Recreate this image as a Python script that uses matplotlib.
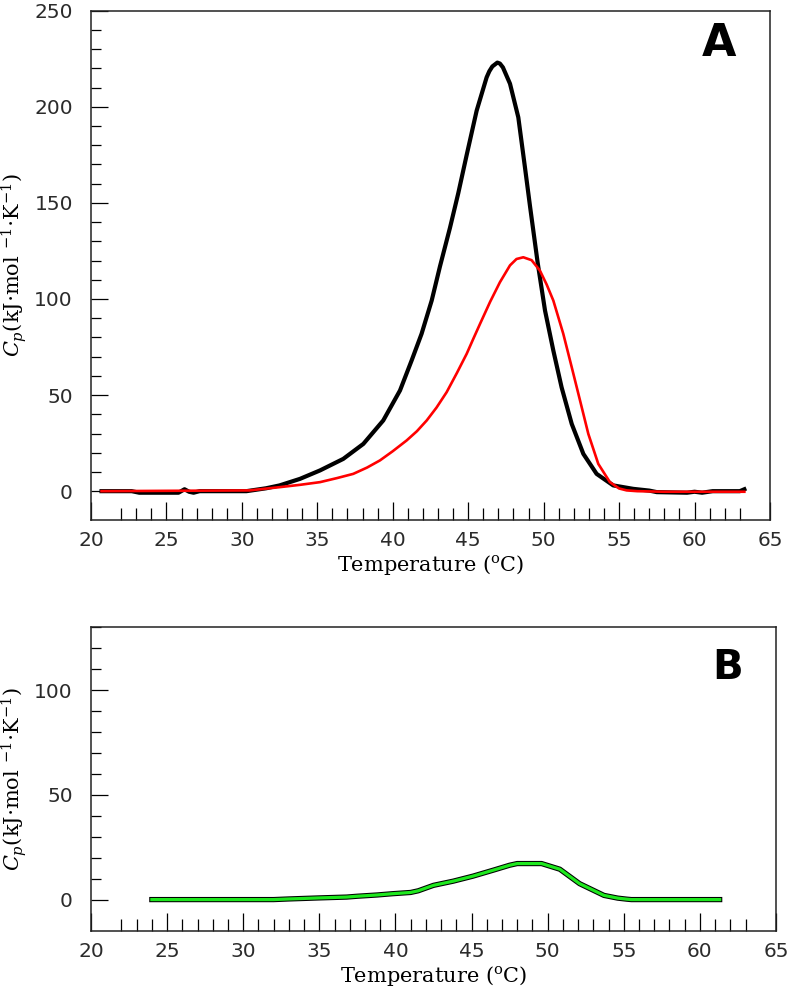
import matplotlib
matplotlib.use('Agg')
import matplotlib.pyplot as plt
from matplotlib.ticker import FixedLocator

# panel A, black trace (measured Cp)
temp_black = [20.7, 22.7, 23.2, 25.8, 26.2, 26.5, 26.8, 27.2, 30.3, 31.6, 32.5, 33.85,
              35.18, 36.72, 38.05, 39.37, 40.48, 41.25, 41.91, 42.58, 43.13, 43.79, 44.34,
              44.9, 45.56, 46.22, 46.4, 46.6, 46.93, 47.1, 47.3, 47.77, 48.32, 48.76, 49.1,
              49.6, 50.09, 50.64, 51.19, 51.86, 52.63, 53.51, 54.61, 55.94, 57.0, 57.5,
              59.5, 60.0, 60.5, 61.2, 63.0, 63.3]
cp_black = [0, 0, -0.8, -0.8, 1.0, -0.3, -0.8, 0, 0, 1.5, 3.0, 6.4,
            10.8, 16.8, 24.6, 36.8, 52.4, 68, 81.9, 99.2, 117, 137, 155,
            175, 198, 215.3, 218.5, 221, 223, 222.5, 220.5, 212, 194.5, 168.5, 148,
            119, 94, 73.2, 54, 35, 19.4, 9.0, 3.0, 1.2, 0.3, -0.5,
            -0.8, -0.3, -0.8, 0, 0, 1.0]

# panel A, red trace (fit)
temp_red = [20.7, 30.5, 32.52, 33.85, 35.18, 36.3, 37.38, 38.3, 39.15, 40.0, 40.92, 41.6,
            42.25, 42.9, 43.57, 44.25, 44.9, 45.35, 45.78, 46.45, 47.1, 47.77, 48.2, 48.65,
            49.2, 49.75, 50.2, 50.64, 51.3, 51.86, 52.41, 52.96, 53.62, 54.39, 55.0, 55.5,
            56.2, 58.0, 63.3]
cp_red = [0, 0.4, 2.1, 3.3, 4.7, 6.8, 9.0, 12.3, 16, 20.8, 26.4, 31.2,
          36.8, 43.5, 51.5, 61.5, 71.5, 79.5, 87, 98.5, 108.7, 117.5, 120.8, 121.7,
          120.2, 114.8, 107.5, 99.2, 81.9, 64.5, 47.2, 29.8, 14.2, 4.7, 1.4, 0.4,
          0, -0.3, -0.3]

# panel B, difference trace
temp_diff = [24.0, 32.0, 33.0, 34.2, 35.0, 36.8, 37.5, 38.8, 39.8, 41.0, 41.5, 42.5,
             43.8, 45.1, 46.5, 47.5, 48.0, 49.6, 50.8, 52.1, 53.7, 54.6, 55.2, 55.5, 61.3]
cp_diff = [0, 0, 0.3, 0.6, 0.8, 1.2, 1.6, 2.2, 2.8, 3.4, 4.2, 6.8,
           8.8, 11.2, 14.2, 16.4, 17.2, 17.2, 14.5, 7.6, 2.0, 0.7, 0.2, 0, 0]

xticks = [20, 25, 30, 35, 40, 45, 50, 55, 60, 65]
xminor = [t for t in range(22, 64) if t % 5 != 0]

plt.rcParams['mathtext.fontset'] = 'dejavuserif'
ylabel = r'$C_p$(kJ$\cdot$mol $^{-1}$$\cdot$K$^{-1}$)'
xlabel = r'Temperature ($^{\rm o}$C)'

fig = plt.figure(figsize=(7.87, 10), dpi=100)
axA = fig.add_axes([0.1156, 0.48, 0.8628, 0.5093])
axB = fig.add_axes([0.1156, 0.069, 0.8704, 0.3037])


def style(ax, ymax, ymajor):
    ax.set_xlim(20, 65)
    ax.set_ylim(-15, ymax)
    ax.xaxis.set_major_locator(FixedLocator(xticks))
    ax.xaxis.set_minor_locator(FixedLocator(xminor))
    ax.yaxis.set_major_locator(FixedLocator(ymajor))
    ax.yaxis.set_minor_locator(FixedLocator(list(range(0, ymax + 1, 10))))
    ax.tick_params(axis='both', which='both', direction='in', color='black',
                   labelcolor='#2b2b2b', labelsize=14.5, width=0.9)
    ax.tick_params(axis='x', which='major', length=13, pad=8)
    ax.tick_params(axis='x', which='minor', length=8.5)
    ax.tick_params(axis='y', which='major', length=12.5, pad=13)
    ax.tick_params(axis='y', which='minor', length=7.5)
    for s in ax.spines.values():
        s.set_linewidth(1.1)
        s.set_color('#222222')
    ax.set_xlabel(xlabel, family='DejaVu Serif', fontsize=15, labelpad=2)
    ax.set_ylabel(ylabel, family='DejaVu Serif', fontsize=15, labelpad=4)


axA.plot(temp_black, cp_black, color='black', lw=3.0, solid_joinstyle='round')
axA.plot(temp_red, cp_red, color='#ff0000', lw=1.9, solid_joinstyle='round')
style(axA, 250, [0, 50, 100, 150, 200, 250])
axA.text(0.925, 0.935, 'A', transform=axA.transAxes, fontsize=32,
         fontweight='bold', ha='center', va='center', family='DejaVu Sans')

axB.plot(temp_diff, cp_diff, color='black', lw=3.8)
axB.plot(temp_diff, cp_diff, color='#1ee81e', lw=2.3)
style(axB, 130, [0, 50, 100])
axB.text(0.93, 0.865, 'B', transform=axB.transAxes, fontsize=29,
         fontweight='bold', ha='center', va='center', family='DejaVu Sans')

fig.savefig('out.png', dpi=100)
